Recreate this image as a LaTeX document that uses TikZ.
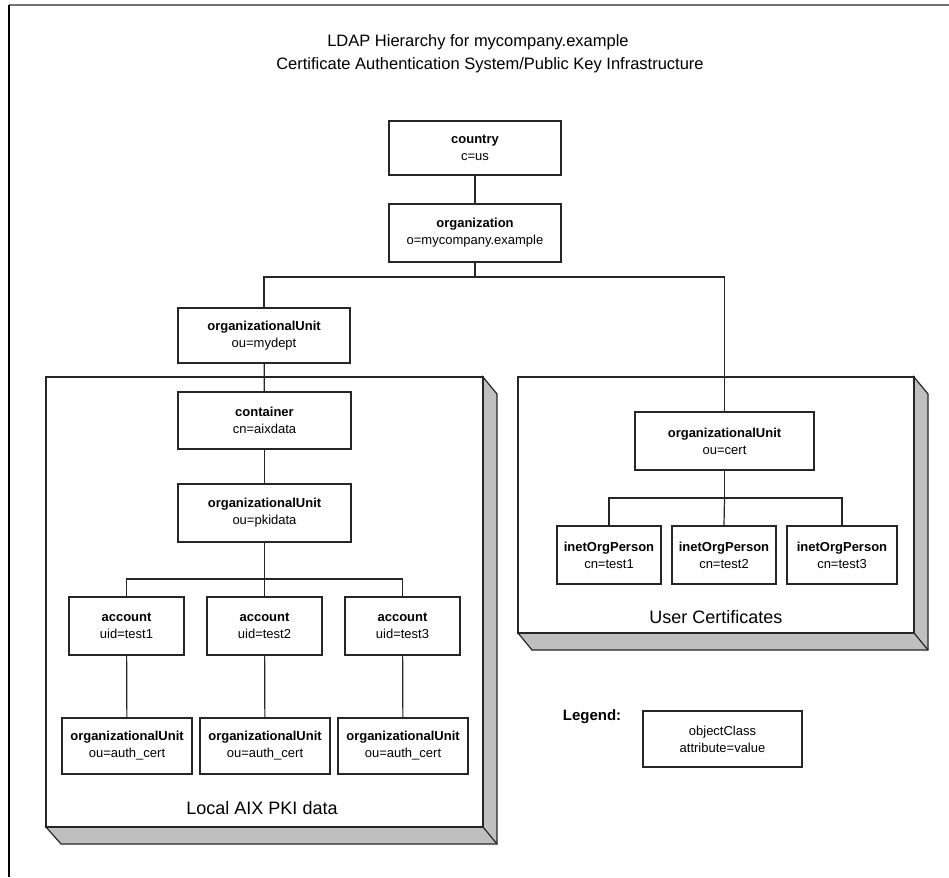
\documentclass[tikz,border=0pt]{standalone}
\usepackage{fontspec}
\setmainfont{Liberation Sans}
\begin{document}
\begin{tikzpicture}[x=1pt,y=-1pt,
  entry/.style={draw=black!85, line width=1.3pt, fill=white, inner sep=0pt, align=center,
    font=\fontsize{13}{17}\selectfont},
  conn/.style={draw=black!85, line width=1.2pt},
  shade3d/.style={draw=black!85, line width=1.2pt, fill=black!25},
  panel/.style={draw=black!85, line width=1.3pt, fill=white},
  biglabel/.style={font=\fontsize{18}{20}\selectfont, inner sep=0pt},
  titletext/.style={font=\fontsize{16.5}{20}\selectfont, inner sep=0pt}
]
\useasboundingbox (0,0) rectangle (949,877);
\fill[white] (0,0) rectangle (949,877);
% frame
\draw[black!55, line width=1.3pt] (9,5) -- (949,5);
\draw[black, line width=1.3pt] (9,5) -- (9,877);

% title
\node[titletext] (title1) at (478,42) {LDAP Hierarchy for mycompany.example};
\node[titletext] (title2) at (490,65) {Certificate Authentication System/Public Key Infrastructure};

% left 3D panel
\fill[shade3d] (483,377) -- (497,394) -- (497,844) -- (61,844) -- (46,827) -- (483,827) -- cycle;
\draw[conn] (483,827) -- (497,844);
\draw[panel] (46,377) rectangle (483,827);
% right 3D panel
\fill[shade3d] (914,377) -- (928,394) -- (928,650) -- (532,650) -- (518,633) -- (914,633) -- cycle;
\draw[conn] (914,633) -- (928,650);
\draw[panel] (518,377) rectangle (914,633);

\node[biglabel] (lbl-local) at (262,808) {Local AIX PKI data};
\node[biglabel] (lbl-user) at (716,617) {User Certificates};

% nodes
\node[entry, minimum width=172pt, minimum height=54pt] (country) at (475,148) {\textbf{country}\\c=us};
\node[entry, minimum width=172pt, minimum height=58pt] (org) at (475,233) {\textbf{organization}\\o=mycompany.example};
\node[entry, minimum width=172pt, minimum height=55pt] (mydept) at (264,335.5) {\textbf{organizationalUnit}\\ou=mydept};
\node[entry, minimum width=173pt, minimum height=57pt] (aixdata) at (264.5,420.5) {\textbf{container}\\cn=aixdata};
\node[entry, minimum width=173pt, minimum height=58pt] (pkidata) at (264.5,513) {\textbf{organizationalUnit}\\ou=pkidata};

\node[entry, minimum width=115pt, minimum height=58pt] (acc1) at (126.5,626) {\textbf{account}\\uid=test1};
\node[entry, minimum width=115pt, minimum height=58pt] (acc2) at (264.5,626) {\textbf{account}\\uid=test2};
\node[entry, minimum width=115pt, minimum height=58pt] (acc3) at (402.5,626) {\textbf{account}\\uid=test3};

\node[entry, minimum width=130pt, minimum height=56pt] (auth1) at (127,746) {\textbf{organizationalUnit}\\ou=auth\_cert};
\node[entry, minimum width=130pt, minimum height=56pt] (auth2) at (265,746) {\textbf{organizationalUnit}\\ou=auth\_cert};
\node[entry, minimum width=130pt, minimum height=56pt] (auth3) at (403,746) {\textbf{organizationalUnit}\\ou=auth\_cert};

\node[entry, minimum width=179pt, minimum height=58pt] (cert) at (724.5,441) {\textbf{organizationalUnit}\\ou=cert};
\node[entry, minimum width=104pt, minimum height=58pt] (p1) at (609,555) {\textbf{inetOrgPerson}\\cn=test1};
\node[entry, minimum width=104pt, minimum height=58pt] (p2) at (724,555) {\textbf{inetOrgPerson}\\cn=test2};
\node[entry, minimum width=110pt, minimum height=58pt] (p3) at (842,555) {\textbf{inetOrgPerson}\\cn=test3};

% legend
\node[font=\fontsize{15}{17}\selectfont\bfseries, inner sep=0pt] (legendlbl) at (592,717) {Legend:};
\node[entry, minimum width=159pt, minimum height=56pt] (legendbox) at (722.5,739) {objectClass\\attribute=value};

% connectors
\coordinate (busTop) at (475,277);
\coordinate (busLeft) at (264.5,579);
\coordinate (busRight) at (724.5,498);
\draw[conn] (country) -- (org);
\draw[conn] (org) -- (busTop);
\draw[conn] (busTop) -| (mydept.north);
\draw[conn] (busTop) -| (cert.north);
\draw[conn] (mydept) -- (aixdata);
\draw[conn] (aixdata) -- (pkidata);
\draw[conn] (pkidata) -- (busLeft);
\draw[conn] (busLeft) -| (acc1.north);
\draw[conn] (busLeft) -| (acc3.north);
\draw[conn] (busLeft) -- (acc2.north);
\draw[conn] (acc1) -- (auth1);
\draw[conn] (acc2) -- (auth2);
\draw[conn] (acc3) -- (auth3);
\draw[conn] (cert) -- (busRight);
\draw[conn] (busRight) -| (p1.north);
\draw[conn] (busRight) -| (p3.north);
\draw[conn] (busRight) -- (p2.north);
\end{tikzpicture}
\end{document}
